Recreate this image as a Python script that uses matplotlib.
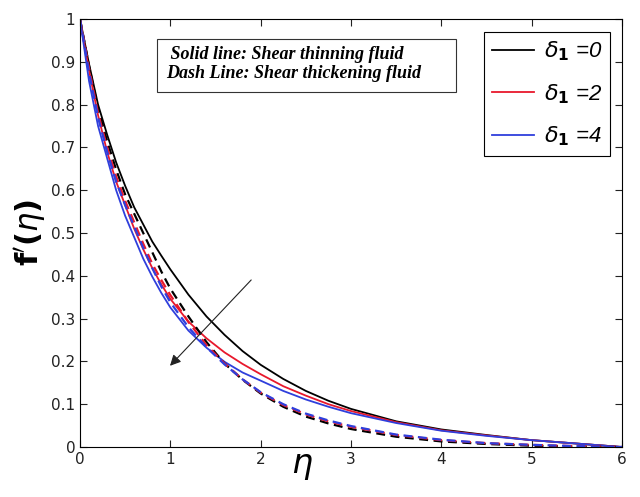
import matplotlib
matplotlib.use("Agg")
import matplotlib.pyplot as plt
from matplotlib.patches import Rectangle

plt.rcParams['mathtext.fontset'] = 'dejavusans'

# eta grid
eta = [0, 0.1, 0.2, 0.3, 0.4, 0.5, 0.6, 0.7, 0.8, 0.9, 1.0, 1.2, 1.4, 1.6, 1.8,
       2.0, 2.25, 2.5, 2.75, 3.0, 3.5, 4.0, 4.5, 5.0, 5.5, 6.0]

# solid lines: shear thinning
thin_d0 = [1.0, 0.895, 0.80, 0.73, 0.665, 0.61, 0.56, 0.52, 0.48, 0.447, 0.415, 0.356, 0.305,
           0.262, 0.224, 0.192, 0.159, 0.131, 0.108, 0.089, 0.06, 0.041, 0.028, 0.016, 0.008, 0.0]
thin_d2 = [1.0, 0.88, 0.775, 0.69, 0.62, 0.565, 0.51, 0.462, 0.418, 0.38, 0.346, 0.293, 0.254,
           0.221, 0.194, 0.17, 0.142, 0.12, 0.1, 0.084, 0.058, 0.039, 0.027, 0.016, 0.008, 0.0]
thin_d4 = [1.0, 0.855, 0.75, 0.675, 0.60, 0.54, 0.49, 0.44, 0.398, 0.36, 0.326, 0.272, 0.232,
           0.199, 0.174, 0.155, 0.131, 0.111, 0.094, 0.079, 0.056, 0.038, 0.026, 0.016, 0.008, 0.0]

# dashed lines: shear thickening
thick_d0 = [1.0, 0.89, 0.79, 0.715, 0.648, 0.59, 0.545, 0.50, 0.455, 0.41, 0.37, 0.305, 0.245,
            0.195, 0.157, 0.125, 0.094, 0.071, 0.055, 0.042, 0.024, 0.013, 0.007, 0.003, 0.001, 0.0]
thick_d2 = [1.0, 0.885, 0.78, 0.70, 0.632, 0.575, 0.525, 0.475, 0.428, 0.39, 0.355, 0.292, 0.238,
            0.195, 0.158, 0.127, 0.098, 0.076, 0.06, 0.047, 0.028, 0.016, 0.009, 0.005, 0.002, 0.0]
thick_d4 = [1.0, 0.875, 0.77, 0.69, 0.62, 0.565, 0.515, 0.465, 0.418, 0.375, 0.338, 0.28, 0.233,
            0.193, 0.158, 0.128, 0.1, 0.078, 0.062, 0.049, 0.029, 0.017, 0.009, 0.005, 0.002, 0.0]

labels = [r'$\delta_{\mathbf{1}}$ =0', r'$\delta_{\mathbf{1}}$ =2', r'$\delta_{\mathbf{1}}$ =4']
colors = ['black', '#e8182c', '#2f3fdc']

fig = plt.figure(figsize=(6.4, 4.97), dpi=100)
ax = fig.add_axes([0.125, 0.1006, 0.847, 0.8612])

for y, c, lab in zip([thin_d0, thin_d2, thin_d4], colors, labels):
    ax.plot(eta, y, color=c, lw=1.3, label=lab)
for y, c in zip([thick_d0, thick_d2, thick_d4], colors):
    ax.plot(eta, y, color=c, lw=1.6, linestyle=(0, (4, 2.5)))

ax.set_xlim(0, 6)
ax.set_ylim(0, 1)
ax.set_xticks(range(7))
yt = [i / 10 for i in range(11)]
ax.set_yticks(yt)
ax.set_yticklabels(['0'] + ['%.1f' % v for v in yt[1:-1]] + ['1'])
ax.tick_params(direction='in', top=True, right=True, length=5, width=0.8,
               labelsize=11, colors='#222222')
for s in ax.spines.values():
    s.set_linewidth(0.8)

ax.set_ylabel(r"$\mathbf{f}'\mathbf{(}\eta\mathbf{)}$", fontsize=22, labelpad=2)
ax.set_xlabel(r'$\eta$', fontsize=24)
ax.xaxis.set_label_coords(0.41, -0.005)

leg = ax.legend(loc='upper right',
                prop={'size': 16, 'style': 'italic', 'family': 'Liberation Sans'},
                handlelength=1.9, handletextpad=0.45, labelspacing=0.85,
                fancybox=False, edgecolor='black', framealpha=1, borderpad=0.35,
                borderaxespad=0, bbox_to_anchor=(0.978, 0.97))
leg.get_frame().set_linewidth(0.8)

# note box
ax.add_patch(Rectangle((0.142, 0.829), 0.552, 0.124, transform=ax.transAxes,
                       fc='white', ec='#333333', lw=0.8, zorder=4))
ax.text(0.158, 0.938, " Solid line: Shear thinning fluid\nDash Line: Shear thickening fluid",
        transform=ax.transAxes, va='top', ha='left', fontsize=13, zorder=5,
        family='Liberation Serif', fontweight='bold', fontstyle='italic')

ax.annotate('', xy=(0.975, 0.185), xytext=(1.916, 0.395),
            arrowprops=dict(arrowstyle='-|>', lw=0.8, color='#222222', mutation_scale=16))

fig.savefig('out.png', dpi=100)
